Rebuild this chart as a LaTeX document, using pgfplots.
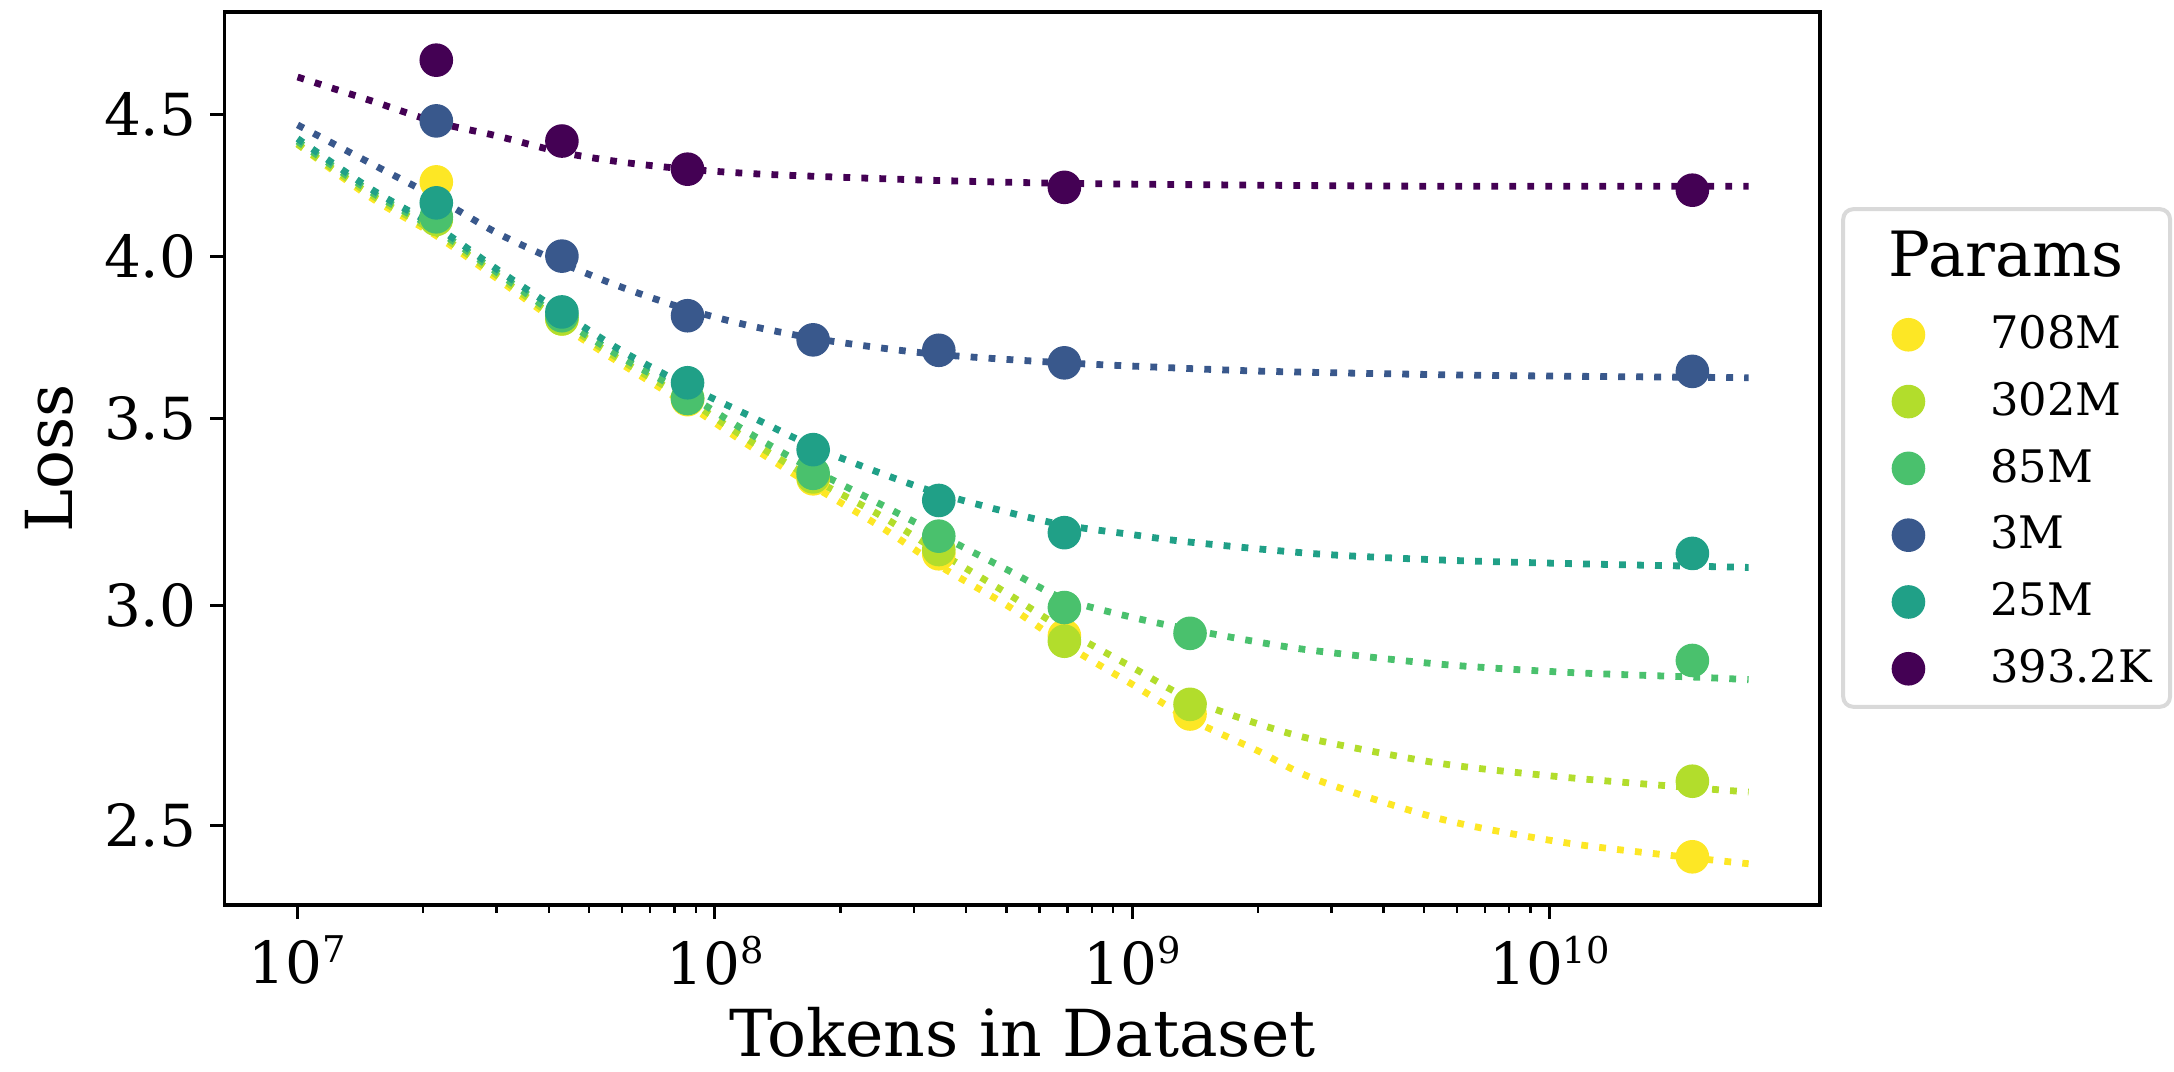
\documentclass[border=0pt]{standalone}
\usepackage{fontspec}
\setmainfont{DejaVu Serif}
\usepackage{pgfplots}
\pgfplotsset{compat=1.18}
\definecolor{c708}{HTML}{FDE725}
\definecolor{c302}{HTML}{B2DD2C}
\definecolor{c85}{HTML}{4AC16D}
\definecolor{c3}{HTML}{39588C}
\definecolor{c25}{HTML}{20A087}
\definecolor{c393}{HTML}{440154}
\newcommand{\tp}[1]{10\raisebox{5.3pt}{\fontsize{9.2}{10}\selectfont #1}}
\begin{document}
\begin{tikzpicture}
\begin{axis}[
  scale only axis, width=398.9pt, height=223.25pt,
  xmode=log, ymode=log,
  xmin=6.68e6, xmax=4.45e10,
  ymin=2.342, ymax=4.896,
  xtick={1e7,1e8,1e9,1e10},
  xticklabels={\tp{7},\tp{8},\tp{9},\tp{10}},
  ytick={2.5,3,3.5,4,4.5},
  yticklabels={2.5,3.0,3.5,4.0,4.5},
  tick align=outside, tick pos=left,
  axis line style={line width=0.8pt},
  tick style={black, line width=0.8pt},
  minor tick style={line width=0.6pt},
  major tick length=3.5pt, minor tick length=2pt,
  ticklabel style={font=\fontsize{14.5}{17}\selectfont},
  xticklabel style={inner ysep=4pt},
  yticklabel style={inner xsep=3.35pt},
  label style={font=\fontsize{16.2}{19}\selectfont},
  xlabel={Tokens in Dataset}, ylabel={Loss},
  xlabel style={at={(axis description cs:0.5,-0.170)}, anchor=base},
  ylabel style={at={(axis description cs:-0.0953,0.5)}, anchor=base},
  legend cell align=left,
  legend style={at={(1,1)}, anchor=north west, xshift=7.9pt, yshift=-72.15pt,
    draw=none, fill=none, inner sep=0pt, row sep=0pt,
    font=\fontsize{11.2}{13}\selectfont,
    nodes={inner sep=0pt, minimum height=16.7pt},
    /tikz/every odd column/.append style={column sep=15pt}},
  legend image code/.code={\path (0pt,0pt) (19pt,0pt); \draw[#1] plot coordinates {(13.8pt,0pt)};},
  mark size=4pt,
]
\addplot[only marks, mark=*, draw=c708, fill=c708] coordinates {
(2.15e7,4.255) (4.3e7,3.80) (8.6e7,3.555) (1.72e8,3.33) (3.44e8,3.13) (6.88e8,2.925) (1.376e9,2.742) (2.2e10,2.437)};
\addlegendentry{708M}
\addplot[only marks, mark=*, draw=c302, fill=c302] coordinates {
(2.15e7,4.125) (4.3e7,3.80) (8.6e7,3.56) (1.72e8,3.335) (3.44e8,3.141) (6.88e8,2.912) (1.376e9,2.764) (2.2e10,2.594)};
\addlegendentry{302M}
\addplot[only marks, mark=*, draw=c85, fill=c85] coordinates {
(2.15e7,4.134) (4.3e7,3.81) (8.6e7,3.558) (1.72e8,3.345) (3.44e8,3.176) (6.88e8,2.994) (1.376e9,2.931) (2.2e10,2.866)};
\addlegendentry{85M}
\addplot[only marks, mark=*, draw=c3, fill=c3] coordinates {
(2.15e7,4.475) (4.3e7,4.002) (8.6e7,3.810) (1.72e8,3.735) (3.44e8,3.703) (6.88e8,3.665) (2.2e10,3.639)};
\addlegendentry{3M}
\addplot[only marks, mark=*, draw=c25, fill=c25] coordinates {
(2.15e7,4.182) (4.3e7,3.822) (8.6e7,3.605) (1.72e8,3.411) (3.44e8,3.271) (6.88e8,3.185) (2.2e10,3.131)};
\addlegendentry{25M}
\addplot[only marks, mark=*, draw=c393, fill=c393] coordinates {
(2.15e7,4.705) (4.3e7,4.401) (8.6e7,4.300) (6.88e8,4.236) (2.2e10,4.226)};
\addlegendentry{393.2K}

\pgfplotsset{fitline/.style={forget plot, no marks, smooth, line width=1.7pt, dash pattern=on 1.7pt off 2.8pt}}
\addplot[fitline, c708] coordinates {
(1e7,4.39)(1.5e7,4.20)(2.15e7,4.07)(3e7,3.93)(4.3e7,3.78)(6e7,3.66)(8.6e7,3.54)(1.2e8,3.425)(1.72e8,3.31)(2.5e8,3.20)(3.44e8,3.10)(5e8,3.0)(6.88e8,2.905)(1e9,2.81)(1.38e9,2.73)(2e9,2.66)(2.75e9,2.598)(5.5e9,2.514)(1.1e10,2.465)(2.2e10,2.435)(3e10,2.423)};
\addplot[fitline, c302] coordinates {
(1e7,4.39)(1.5e7,4.21)(2.15e7,4.08)(3e7,3.94)(4.3e7,3.79)(6e7,3.67)(8.6e7,3.555)(1.2e8,3.44)(1.72e8,3.33)(2.5e8,3.23)(3.44e8,3.135)(5e8,3.03)(6.88e8,2.94)(1e9,2.85)(1.38e9,2.775)(2e9,2.72)(2.75e9,2.684)(5.5e9,2.632)(1.1e10,2.602)(2.2e10,2.58)(3e10,2.571)};
\addplot[fitline, c85] coordinates {
(1e7,4.40)(1.5e7,4.22)(2.15e7,4.09)(3e7,3.95)(4.3e7,3.80)(6e7,3.68)(8.6e7,3.57)(1.2e8,3.46)(1.72e8,3.355)(2.5e8,3.26)(3.44e8,3.18)(5e8,3.09)(6.88e8,3.015)(1e9,2.97)(1.38e9,2.94)(2e9,2.91)(2.75e9,2.889)(5.5e9,2.857)(1.1e10,2.838)(2.2e10,2.827)(3e10,2.821)};
\addplot[fitline, c25] coordinates {
(1e7,4.41)(1.5e7,4.23)(2.15e7,4.10)(3e7,3.96)(4.3e7,3.82)(6e7,3.70)(8.6e7,3.595)(1.2e8,3.51)(1.72e8,3.42)(2.5e8,3.345)(3.44e8,3.29)(5e8,3.24)(6.88e8,3.205)(1e9,3.18)(1.38e9,3.16)(2.75e9,3.13)(5.5e9,3.114)(1.1e10,3.105)(2.2e10,3.098)(3e10,3.095)};
\addplot[fitline, c3] coordinates {
(1e7,4.46)(1.5e7,4.32)(2.15e7,4.20)(3e7,4.08)(4.3e7,3.98)(6e7,3.90)(8.6e7,3.83)(1.2e8,3.78)(1.72e8,3.74)(2.5e8,3.71)(3.44e8,3.69)(5e8,3.675)(6.88e8,3.665)(1e9,3.655)(2e9,3.64)(5e9,3.63)(1e10,3.625)(3e10,3.62)};
\addplot[fitline, c393] coordinates {
(1e7,4.64)(1.5e7,4.55)(2.15e7,4.47)(3e7,4.42)(4.3e7,4.36)(6e7,4.325)(8.6e7,4.30)(1.2e8,4.285)(1.72e8,4.275)(3.44e8,4.26)(6.88e8,4.25)(1.5e9,4.245)(5e9,4.24)(3e10,4.24)};
\end{axis}
\draw[black!15, line width=1pt, rounded corners=2.5pt]
  ([xshift=5.8pt,yshift=-49.3pt]current axis.north east) rectangle ([xshift=87.5pt,yshift=-173.7pt]current axis.north east);
\node[anchor=base west, inner sep=0pt, font=\fontsize{15.6}{18}\selectfont]
  at ([xshift=17pt,yshift=-66.1pt]current axis.north east) {Params};
\pgfresetboundingbox
\path ([xshift=-56.1pt,yshift=-41.75pt]current axis.south west) rectangle ([xshift=88.5pt,yshift=3pt]current axis.north east);
\end{tikzpicture}
\end{document}
